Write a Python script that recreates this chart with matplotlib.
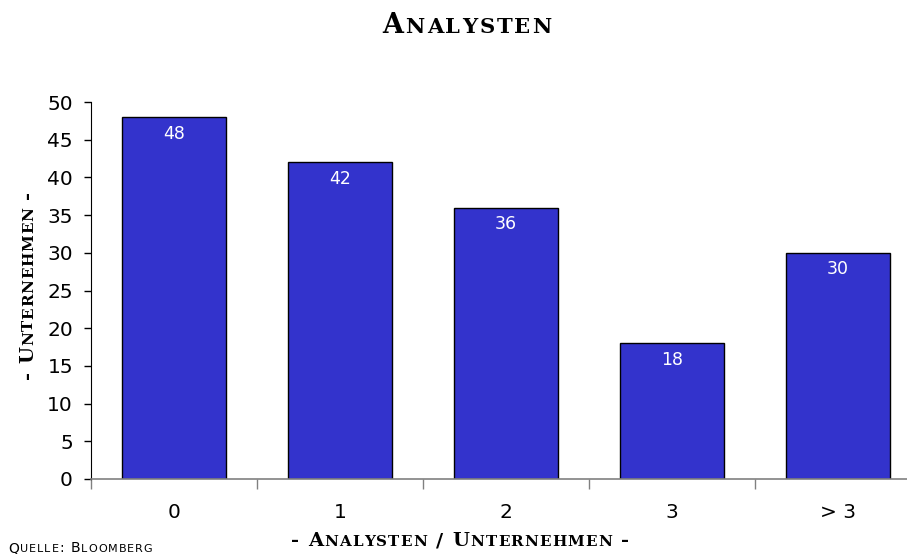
import matplotlib
matplotlib.use("Agg")
import matplotlib.pyplot as plt
import matplotlib.transforms as mtransforms
import numpy as np

# Anzahl Unternehmen je Analystenzahl
kategorien = ["0", "1", "2", "3", "> 3"]
unternehmen = [48, 42, 36, 18, 30]
y_ticks = [0, 5, 10, 15, 20, 25, 30, 35, 40, 45, 50]

titel = "Analysten"
x_titel = "- Analysten / Unternehmen -"
y_titel = "- Unternehmen -"
quelle = "Quelle: Bloomberg"

BAR_COLOR = "#3333cc"
SERIF = "DejaVu Serif"
SANS = "DejaVu Sans"


def text_width(fig, s, size, family, weight):
    """Breite eines Textstuecks in Pixeln (inkl. Leerzeichen)."""
    r = fig.canvas.get_renderer()
    t1 = fig.text(0, 0, "|" + s + "|", fontsize=size, family=family, weight=weight)
    t2 = fig.text(0, 0, "||", fontsize=size, family=family, weight=weight)
    w = t1.get_window_extent(r).width - t2.get_window_extent(r).width
    t1.remove()
    t2.remove()
    return w


def smallcaps(fig, x, y, s, size, family=SERIF, weight="bold", rotation=0,
              ha="center", ratio=0.78, track=1.0, **kw):
    """Kapitaelchen: Grossbuchstaben voll, Kleinbuchstaben verkleinert,
    jeder Buchstabe einzeln mit etwas Sperrung gesetzt."""
    chars = [(ch.upper(), size * ratio if ch.islower() else size) for ch in s]
    widths = [text_width(fig, c, sz, family, weight) + track for c, sz in chars]
    total = sum(widths) - track
    pos = -total / 2 if ha == "center" else 0.0
    for (c, sz), w in zip(chars, widths):
        if rotation == 90:
            off = mtransforms.offset_copy(fig.transFigure, fig, x=0, y=pos, units="dots")
        else:
            off = mtransforms.offset_copy(fig.transFigure, fig, x=pos, y=0, units="dots")
        if c.strip():
            fig.text(x, y, c, fontsize=sz, family=family, weight=weight,
                     rotation=rotation, rotation_mode="anchor",
                     ha="left", va="baseline", transform=off, **kw)
        pos += w


fig = plt.figure(figsize=(9.07, 5.54), dpi=100)
W, H = 907, 554
ax = fig.add_axes([91 / W, (H - 479) / H, 830 / W, 377 / H])

x = np.arange(len(kategorien))
bars = ax.bar(x, unternehmen, width=0.63, color=BAR_COLOR, edgecolor="black",
              linewidth=1, zorder=2)

for xi, v in zip(x, unternehmen):
    ax.annotate(str(v), (xi, v), xytext=(0, -5.5), textcoords="offset points",
                ha="center", va="top", color="white", fontsize=12.5, family=SANS)

ax.set_xlim(-0.5, len(kategorien) - 0.5)
ax.set_ylim(0, 50)

# Trennstriche zwischen den Kategorien, Beschriftung in der Mitte
ax.set_xticks(np.arange(-0.5, len(kategorien), 1.0))
ax.set_xticklabels([])
ax.set_xticks(x, minor=True)
ax.set_xticklabels(kategorien, minor=True, fontsize=14.5, family=SANS)
ax.tick_params(axis="x", which="major", direction="out", length=7, width=1,
               color="#808080")
ax.tick_params(axis="x", which="minor", length=0, pad=17)

ax.set_yticks(y_ticks)
ax.set_yticklabels([str(v) for v in y_ticks], fontsize=14.5, family=SANS)
ax.tick_params(axis="y", direction="out", length=5, width=1, color="black", pad=8)

for side in ["top", "right"]:
    ax.spines[side].set_visible(False)
ax.spines["left"].set_color("black")
ax.spines["bottom"].set_color("#808080")
ax.spines["bottom"].set_linewidth(1.2)

fig.canvas.draw()
smallcaps(fig, 467 / W, (H - 33) / H, titel, 19.5, track=2.0)
smallcaps(fig, 460 / W, (H - 546) / H, x_titel, 14, track=1.2)
smallcaps(fig, 33 / W, (H - 285) / H, y_titel, 14, rotation=90, track=0.8)
smallcaps(fig, 8 / W, (H - 552) / H, quelle, 10, family=SANS, weight="normal",
          ha="left", ratio=0.8, track=1.0)

fig.savefig("out.png", dpi=100)
